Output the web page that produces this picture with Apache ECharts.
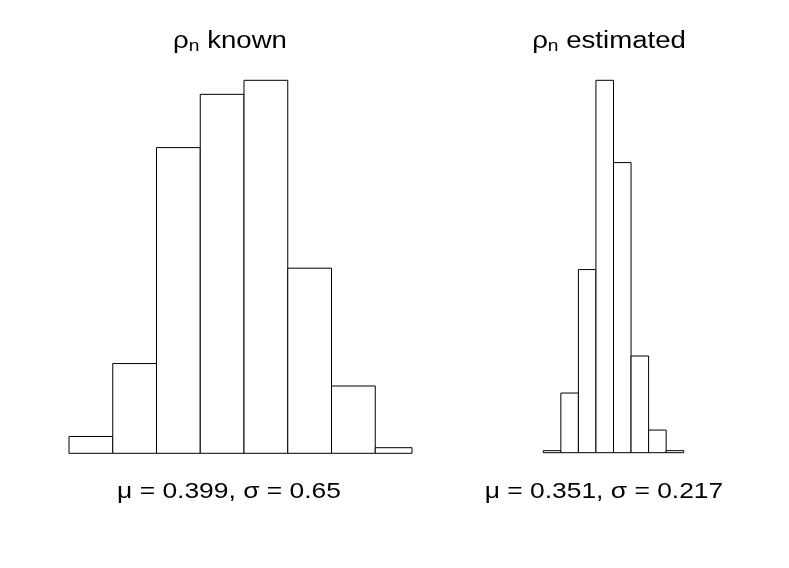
<!DOCTYPE html>
<html>
<head>
<meta charset="utf-8">
<script src="https://cdn.jsdelivr.net/npm/echarts@6/dist/echarts.min.js"></script>
<style>
html, body { margin: 0; padding: 0; background: #fff; }
#main { width: 789px; height: 568px; }
</style>
</head>
<body>
<div id="main"></div>
<script>
// bin edges and counts (500 samples each)
var knownBreaks = [-1.5, -1.0, -0.5, 0.0, 0.5, 1.0, 1.5, 2.0, 2.5];
var knownCounts = [6, 32, 109, 128, 133, 66, 24, 2];
var estBreaks = [-0.4, -0.2, 0.0, 0.2, 0.4, 0.6, 0.8, 1.0, 1.2];
var estCounts = [1, 29, 89, 181, 141, 47, 11, 1];
var titles = ['known', 'estimated'];
var stats = ['μ = 0.399, σ = 0.65', 'μ = 0.351, σ = 0.217'];

function toBins(breaks, counts) {
	var res = [];
	for (var i = 0; i < counts.length; i++) {
		res.push([breaks[i], breaks[i + 1], counts[i]]);
	}
	return res;
}

function renderBin(params, api) {
	var p0 = api.coord([api.value(0), 0]);
	var p1 = api.coord([api.value(1), api.value(2)]);
	// clip to the plot region (last bin on the left runs past it)
	var shape = echarts.graphic.clipRectByRect({
		x: p0[0],
		y: p1[1],
		width: p1[0] - p0[0],
		height: p0[1] - p1[1]
	}, {
		x: params.coordSys.x,
		y: params.coordSys.y - 2,
		width: params.coordSys.width,
		height: params.coordSys.height + 4
	});
	return shape && {
		type: 'rect',
		shape: shape,
		style: { fill: '#fff', stroke: '#000', lineWidth: 1 }
	};
}

var chart = echarts.init(document.getElementById('main'));

var axisOff = { show: false };
var txtFont = 'Liberation Sans, Arial, Helvetica, sans-serif';

function titleText(x, word) {
	return {
		type: 'text',
		x: x,
		y: 42,
		scaleX: 1.2,
		style: {
			text: '{r|ρ}{s|n}{r| ' + word + '}',
			textAlign: 'center',
			textVerticalAlign: 'middle',
			rich: {
				r: { fontSize: 23, fontFamily: txtFont, fill: '#000' },
				s: { fontSize: 16, fontFamily: txtFont, fill: '#000', padding: [9, 0, 0, 0] }
			}
		}
	};
}

function statText(x, s) {
	return {
		type: 'text',
		x: x,
		y: 492,
		scaleX: 1.2,
		style: {
			text: s,
			textAlign: 'center',
			textVerticalAlign: 'middle',
			fontSize: 22,
			fontFamily: txtFont,
			fill: '#000'
		}
	};
}

chart.setOption({
	animation: false,
	backgroundColor: '#fff',
	grid: [
		{ left: 69, top: 80.3, width: 343, height: 373 },
		{ left: 543.3, top: 80.3, width: 140.4, height: 372.4 }
	],
	xAxis: [
		{ type: 'value', gridIndex: 0, min: -1.5, max: 2.42, show: false, splitLine: axisOff },
		{ type: 'value', gridIndex: 1, min: -0.4, max: 1.2, show: false, splitLine: axisOff }
	],
	yAxis: [
		{ type: 'value', gridIndex: 0, min: 0, max: 133, show: false, splitLine: axisOff },
		{ type: 'value', gridIndex: 1, min: 0, max: 181, show: false, splitLine: axisOff }
	],
	series: [
		{
			type: 'custom',
			xAxisIndex: 0,
			yAxisIndex: 0,
			renderItem: renderBin,
			encode: { x: [0, 1], y: 2 },
			data: toBins(knownBreaks, knownCounts)
		},
		{
			type: 'custom',
			xAxisIndex: 1,
			yAxisIndex: 1,
			renderItem: renderBin,
			encode: { x: [0, 1], y: 2 },
			data: toBins(estBreaks, estCounts)
		}
	],
	graphic: [
		titleText(230, titles[0]),
		titleText(609, titles[1]),
		statText(229, stats[0]),
		statText(604, stats[1])
	]
});
</script>
</body>
</html>
